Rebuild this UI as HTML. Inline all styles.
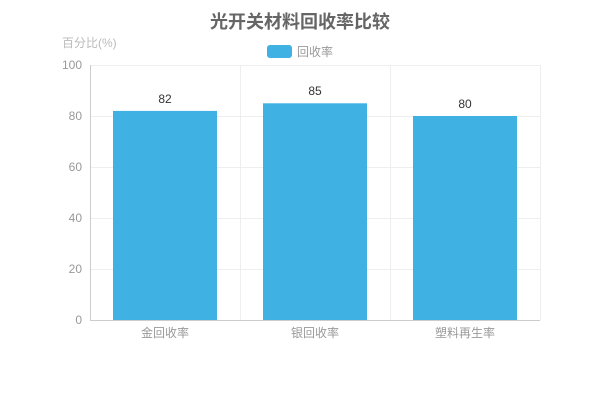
<!DOCTYPE html>
<html><head><meta charset="utf-8"><style>
body{margin:0;background:#fff;}
svg text{font-family:"Liberation Sans","Noto Sans CJK SC",sans-serif;}
</style></head><body>
<svg width="600" height="400" xmlns="http://www.w3.org/2000/svg">
<rect width="600" height="400" fill="#fff"/>
<text x="300" y="28" text-anchor="middle" font-size="18" font-weight="bold" fill="#666">光开关材料回收率比较</text>
<rect x="267" y="45" width="25" height="13" rx="3" fill="#3fb1e3"/>
<text x="297" y="56" font-size="12" fill="#999">回收率</text>
<text x="62" y="47" font-size="12" fill="#bbb">百分比(%)</text>
<g stroke="#eee" stroke-width="1">
<line x1="90" y1="65.5" x2="540" y2="65.5"/>
<line x1="90" y1="116.5" x2="540" y2="116.5"/>
<line x1="90" y1="167.5" x2="540" y2="167.5"/>
<line x1="90" y1="218.5" x2="540" y2="218.5"/>
<line x1="90" y1="269.5" x2="540" y2="269.5"/>
<line x1="240.5" y1="65" x2="240.5" y2="320"/>
<line x1="390.5" y1="65" x2="390.5" y2="320"/>
<line x1="540.5" y1="65" x2="540.5" y2="320"/>
</g>
<line x1="90.5" y1="65" x2="90.5" y2="320" stroke="#ccc"/>
<line x1="90" y1="320.5" x2="540" y2="320.5" stroke="#ccc"/>
<g fill="#3fb1e3">
<rect x="113" y="110.9" width="104" height="209.1"/>
<rect x="263" y="103.3" width="104" height="216.7"/>
<rect x="413" y="116" width="104" height="204"/>
</g>
<g font-size="12" fill="#333" text-anchor="middle">
<text x="165" y="103">82</text>
<text x="315" y="95">85</text>
<text x="465" y="108">80</text>
</g>
<g font-size="12" fill="#999" text-anchor="end">
<text x="82" y="69">100</text>
<text x="82" y="120">80</text>
<text x="82" y="171">60</text>
<text x="82" y="222">40</text>
<text x="82" y="273">20</text>
<text x="82" y="324">0</text>
</g>
<g font-size="12" fill="#999" text-anchor="middle">
<text x="165" y="337">金回收率</text>
<text x="315" y="337">银回收率</text>
<text x="465" y="337">塑料再生率</text>
</g>
</svg>
</body></html>
